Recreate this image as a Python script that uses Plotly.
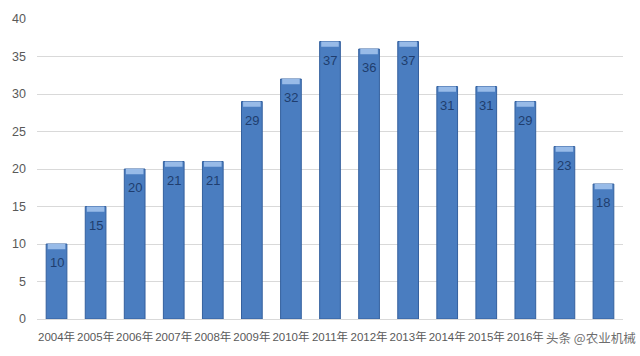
import plotly.graph_objects as go

years = ["2004年", "2005年", "2006年", "2007年", "2008年", "2009年", "2010年", "2011年",
         "2012年", "2013年", "2014年", "2015年", "2016年", "2017年", "2018年"]
tick_text = ["2004年", "2005年", "2006年", "2007年", "2008年", "2009年", "2010年", "2011年",
             "2012年", "2013年", "2014年", "2015年", "2016年", "", ""]
values = [10, 15, 20, 21, 21, 29, 32, 37, 36, 37, 31, 31, 29, 23, 18]
cap = 0.7
y_ticks = [0, 5, 10, 15, 20, 25, 30, 35, 40]

font_family = "Liberation Sans, Noto Sans CJK SC, sans-serif"

fig = go.Figure()
fig.add_trace(go.Bar(
    x=years, y=values,
    marker=dict(color="#4a7dc0", line=dict(color="#34609e", width=1)),
    hoverinfo="skip",
))
fig.add_trace(go.Bar(
    x=years, y=[cap] * len(values), base=[v - cap for v in values],
    marker=dict(color="#98bbe8", line=dict(width=0)),
    width=0.45,
    hoverinfo="skip",
))

for yr, v in zip(years, values):
    fig.add_annotation(x=yr, y=v, text=str(v), showarrow=False, yanchor="top", yshift=-9,
                       font=dict(family=font_family, size=13, color="#1f3d6e"))

fig.add_annotation(xref="paper", yref="paper", x=1.026, y=-0.062, xanchor="right", yanchor="middle",
                   text="头条 @农业机械", showarrow=False,
                   font=dict(family="Noto Sans CJK SC", size=12.5, color="#6e6e6e"))

fig.update_layout(
    width=640, height=356,
    margin=dict(l=32, r=17, t=12, b=37),
    paper_bgcolor="white", plot_bgcolor="white",
    barmode="overlay", bargap=0.47, showlegend=False,
    font=dict(family=font_family, size=12, color="#595959"),
    xaxis=dict(tickangle=0, showgrid=False, showline=False, ticks="", ticklabelstandoff=9,
               tickmode="array", tickvals=years, ticktext=tick_text,
               tickfont=dict(size=11.5, color="#595959")),
    yaxis=dict(range=[0, 40], tickvals=y_ticks, showgrid=True, gridcolor="#d9d9d9", gridwidth=1,
               zeroline=True, zerolinecolor="#d9d9d9", zerolinewidth=1, showline=False,
               ticks="", ticklabelstandoff=10, tickfont=dict(size=12.5, color="#595959")),
)

fig.write_html("out.html")
